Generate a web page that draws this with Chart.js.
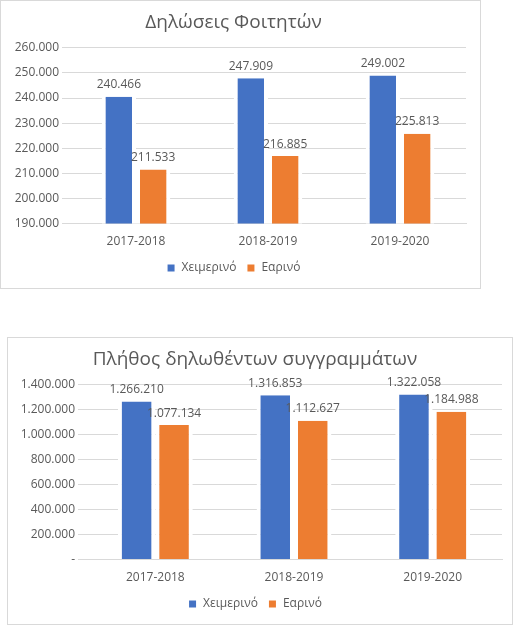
<!DOCTYPE html>
<html>
<head>
<meta charset="utf-8">
<script src="https://cdn.jsdelivr.net/npm/chart.js@4"></script>
<style>
    body{margin:0;background:#fff;width:516px;height:626px;position:relative;font-family:"Open Sans";}
    .box{position:absolute;border:1px solid #d9d9d9;background:#fff;}
    .box1{left:0;top:0;width:479px;height:287px;}
    .box2{left:7px;top:337px;width:504px;height:286px;}
</style>
</head>
<body>
<div class="box box1"><canvas id="chart1"></canvas></div>
<div class="box box2"><canvas id="chart2"></canvas></div>
<script>
// 데이터
const years = ['2017-2018', '2018-2019', '2019-2020'];
const seriesNames = ['Χειμερινό', 'Εαρινό'];
const studentsWinter = [240466, 247909, 249002];
const studentsSpring = [211533, 216885, 225813];
const booksWinter = [1266210, 1316853, 1322058];
const booksSpring = [1077134, 1112627, 1184988];
const colors = ['#4472c4', '#ed7d31'];
const grey = '#595959';

// 천 단위 점 표기
function fmt(v){
    if(v == 0) return '-';
    return String(v).replace(/\B(?=(\d{3})+(?!\d))/g, '.');
}

// 막대 위 값 표시
const valueLabels = {
    id: 'valueLabels',
    afterDatasetsDraw(chart){
        const ctx = chart.ctx;
        ctx.save();
        ctx.font = '12px "Open Sans"';
        ctx.fillStyle = grey;
        ctx.textAlign = 'center';
        ctx.textBaseline = 'bottom';
        chart.data.datasets.forEach((ds, i) => {
            chart.getDatasetMeta(i).data.forEach((bar, j) => {
                ctx.fillText(fmt(ds.data[j]), bar.x, bar.y - 6);
            });
        });
        ctx.restore();
    }
};

function makeChart(id, title, winter, spring, min, max, step, axisWidth, padRight, catPct){
    return new Chart(document.getElementById(id), {
        type: 'bar',
        data: {
            labels: years,
            datasets: [winter, spring].map((d, i) => ({
                label: seriesNames[i],
                data: d,
                backgroundColor: colors[i],
                borderColor: '#ffffff',
                borderWidth: {left: 4, right: 4, top: 0, bottom: 0},
                borderSkipped: false,
                categoryPercentage: catPct,
                barPercentage: 1
            }))
        },
        options: {
            responsive: true,
            maintainAspectRatio: false,
            animation: false,
            layout: {padding: {left: 0, right: padRight, top: 4, bottom: 4}},
            plugins: {
                title: {
                    display: true,
                    text: title,
                    color: grey,
                    font: {family: 'Open Sans', size: 19, weight: 'normal'},
                    padding: {top: 6, bottom: 14}
                },
                legend: {
                    position: 'bottom',
                    labels: {
                        color: grey,
                        font: {family: 'Open Sans', size: 12},
                        boxWidth: 9, boxHeight: 9,
                        useBorderRadius: false,
                        padding: 10
                    }
                },
                tooltip: {enabled: false}
            },
            scales: {
                x: {
                    grid: {display: false},
                    border: {color: '#d9d9d9'},
                    ticks: {color: grey, font: {family: 'Open Sans', size: 12}}
                },
                y: {
                    min: min, max: max,
                    afterFit(scale){ scale.width = axisWidth; },
                    grid: {color: '#d9d9d9'},
                    border: {display: false},
                    ticks: {
                        stepSize: step,
                        color: grey,
                        font: {family: 'Open Sans', size: 12},
                        callback: v => fmt(v)
                    }
                }
            }
        },
        plugins: [valueLabels]
    });
}

makeChart('chart1', 'Δηλώσεις Φοιτητών', studentsWinter, studentsSpring, 190000, 260000, 10000, 69, 14, 0.52);
makeChart('chart2', 'Πλήθος δηλωθέντων συγγραμμάτων', booksWinter, booksSpring, 0, 1400000, 200000, 78, 10, 0.54);
</script>
</body>
</html>
